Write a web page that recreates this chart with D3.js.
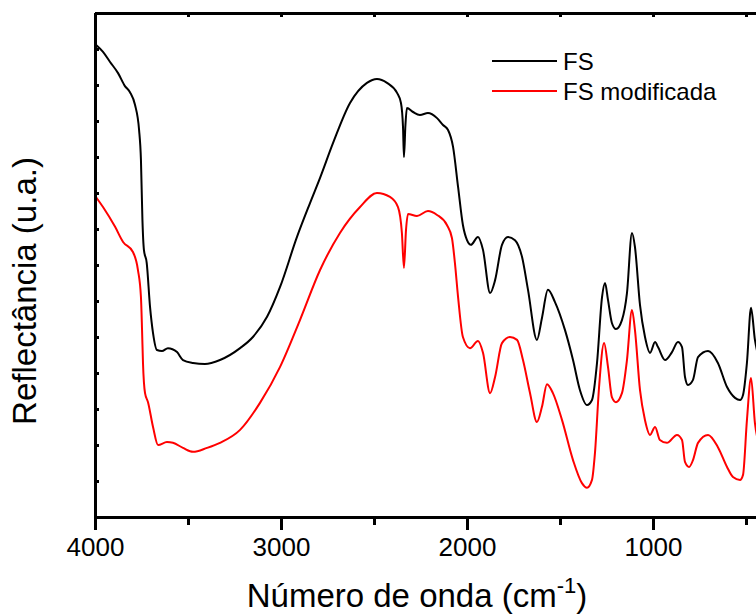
<!DOCTYPE html>
<html>
<head>
<meta charset="utf-8">
<script src="https://cdn.jsdelivr.net/npm/d3@7"></script>
<style>
  body { margin: 0; background: #fff; }
  svg { display: block; font-family: "Liberation Sans", Arial, sans-serif; }
</style>
</head>
<body>
<div id="chart"></div>
<script>
// values (wavenumber in cm-1, reflectance in arbitrary units)
var fsWavenumber = [4000, 3957, 3919, 3876, 3839, 3812, 3785, 3763, 3753, 3745, 3737, 3722, 3704, 3688, 3667, 3640, 3608, 3559, 3527, 3473, 3409, 3328, 3220, 3151, 3075, 3005, 2914, 2844, 2790, 2720, 2629, 2538, 2484, 2430, 2376, 2355, 2344, 2339, 2331, 2323, 2290, 2253, 2210, 2161, 2129, 2102, 2075, 2048, 2022, 2000, 1979, 1941, 1914, 1876, 1849, 1812, 1780, 1742, 1704, 1672, 1624, 1597, 1565, 1527, 1473, 1430, 1393, 1355, 1328, 1301, 1274, 1258, 1242, 1221, 1199, 1167, 1140, 1113, 1097, 1070, 1043, 1016, 989, 973, 935, 898, 866, 844, 828, 812, 785, 758, 704, 651, 602, 559, 532, 516, 495, 473, 452, 430];
var fsValues     = [13.14, 12.92, 12.64, 12.33, 11.97, 11.80, 11.45, 10.75, 9.92, 8.25, 7.42, 7.06, 5.83, 5.11, 4.64, 4.61, 4.69, 4.58, 4.36, 4.28, 4.25, 4.36, 4.69, 5.00, 5.56, 6.39, 7.78, 8.72, 9.42, 10.39, 11.50, 12.06, 12.17, 12.06, 11.78, 11.50, 10.83, 10.00, 10.89, 11.36, 11.25, 11.17, 11.22, 11.08, 10.89, 10.75, 10.28, 9.17, 8.11, 7.69, 7.56, 7.78, 7.42, 6.22, 6.58, 7.56, 7.78, 7.69, 7.22, 6.31, 4.92, 5.53, 6.31, 5.97, 5.19, 4.36, 3.53, 3.11, 3.25, 4.28, 6.11, 6.50, 6.03, 5.39, 5.22, 5.47, 6.22, 7.89, 7.50, 5.89, 5.00, 4.56, 4.86, 4.72, 4.36, 4.58, 4.86, 4.72, 3.89, 3.67, 3.81, 4.44, 4.61, 4.28, 3.61, 3.31, 3.25, 3.39, 4.28, 5.81, 4.92, 4.40];

var fsModWavenumber = [3995, 3957, 3892, 3849, 3796, 3769, 3753, 3747, 3742, 3731, 3715, 3688, 3661, 3613, 3581, 3527, 3473, 3398, 3328, 3220, 3113, 3005, 2898, 2790, 2683, 2575, 2484, 2414, 2371, 2350, 2339, 2328, 2317, 2269, 2210, 2161, 2108, 2081, 2065, 2048, 2022, 1984, 1941, 1914, 1876, 1849, 1812, 1769, 1731, 1699, 1661, 1624, 1597, 1570, 1538, 1489, 1430, 1382, 1355, 1328, 1312, 1290, 1263, 1242, 1221, 1199, 1167, 1140, 1113, 1097, 1070, 1043, 1016, 989, 963, 925, 871, 844, 828, 806, 785, 758, 704, 651, 602, 570, 532, 516, 495, 473, 452, 430];
var fsModValues     = [8.89, 8.61, 8.06, 7.64, 7.36, 6.86, 6.11, 5.19, 4.28, 3.44, 3.19, 2.50, 2.00, 2.08, 2.06, 1.92, 1.81, 1.92, 2.06, 2.42, 3.17, 4.17, 5.47, 6.86, 7.89, 8.61, 9.00, 8.89, 8.61, 7.89, 6.92, 7.97, 8.42, 8.36, 8.50, 8.39, 8.11, 7.75, 7.06, 6.11, 5.00, 4.69, 4.89, 4.56, 3.44, 3.89, 4.83, 5.00, 4.92, 4.36, 3.44, 2.64, 3.06, 3.69, 3.44, 2.69, 1.58, 0.94, 0.81, 1.03, 1.78, 3.61, 4.83, 4.17, 3.33, 3.19, 3.44, 4.36, 5.75, 5.19, 3.53, 2.69, 2.28, 2.50, 2.14, 2.06, 2.28, 2.14, 1.53, 1.39, 1.58, 2.06, 2.28, 1.94, 1.39, 1.11, 1.03, 1.17, 2.69, 3.86, 2.61, 2.00];

var xMajorTicks = [4000, 3000, 2000, 1000];
var xMinorTicks = [3500, 2500, 1500, 500];
var legendNames = ["FS", "FS modificada"];
var seriesColors = ["#000000", "#ff0000"];

var width = 756, height = 616;
var margin = {top: 13, left: 95, bottom: 99};
var fontFamily = "'Liberation Sans', Arial, sans-serif";

var x = d3.scaleLinear()
  .domain([4000, 400])
  .range([margin.left, margin.left + 3600 * 0.186]);

var y = d3.scaleLinear()
  .domain([0, 14])
  .range([height - margin.bottom, margin.top]);

var svg = d3.select("#chart").append("svg")
  .attr("width", width)
  .attr("height", height);

svg.append("defs").append("clipPath").attr("id", "plotclip")
  .append("rect")
  .attr("x", x(4000)).attr("y", y(14))
  .attr("width", x(400) - x(4000)).attr("height", y(0) - y(14));

// spectra
var series = [
  d3.zip(fsWavenumber, fsValues),
  d3.zip(fsModWavenumber, fsModValues)
];

var line = d3.line()
  .x(function(d) { return x(d[0]); })
  .y(function(d) { return y(d[1]); })
  .curve(d3.curveMonotoneX);

var g = svg.append("g").attr("clip-path", "url(#plotclip)");
g.selectAll("path.spectrum")
  .data(series)
  .enter().append("path")
    .attr("class", "spectrum")
    .attr("d", line)
    .attr("fill", "none")
    .attr("stroke", function(d, i) { return seriesColors[i]; })
    .attr("stroke-width", 2)
    .attr("stroke-linejoin", "round");

// bottom axis, major ticks with labels
var bottomAxis = svg.append("g")
  .attr("transform", "translate(0," + y(0) + ")")
  .call(d3.axisBottom(x).tickValues(xMajorTicks).tickFormat(d3.format("d"))
    .tickSize(13).tickPadding(8).tickSizeOuter(0));
bottomAxis.attr("font-size", 26).attr("font-family", fontFamily);
bottomAxis.select(".domain").attr("stroke-width", 3);
bottomAxis.selectAll(".tick line").attr("stroke-width", 3);
bottomAxis.selectAll(".tick text").attr("fill", "#000");

// bottom minor ticks
var bottomMinor = svg.append("g")
  .attr("transform", "translate(0," + y(0) + ")")
  .call(d3.axisBottom(x).tickValues(xMinorTicks).tickSize(8).tickFormat("").tickSizeOuter(0));
bottomMinor.select(".domain").remove();
bottomMinor.selectAll(".tick line").attr("stroke-width", 3);

// top frame with small inward ticks
var topAxis = svg.append("g")
  .attr("transform", "translate(0," + y(14) + ")")
  .call(d3.axisBottom(x).tickValues(xMajorTicks.concat(xMinorTicks)).tickSize(4).tickFormat("").tickSizeOuter(0));
topAxis.select(".domain").attr("stroke-width", 3);
topAxis.selectAll(".tick line").attr("stroke-width", 3);

// left axis: ticks only, no labels
var leftAxis = svg.append("g")
  .attr("transform", "translate(" + x(4000) + ",0)")
  .call(d3.axisRight(y).ticks(14).tickSize(4).tickFormat("").tickSizeOuter(0));
leftAxis.select(".domain").attr("stroke-width", 3);
leftAxis.selectAll(".tick line").attr("stroke-width", 3);

// right frame (mostly outside the window)
svg.append("line")
  .attr("x1", x(400)).attr("x2", x(400))
  .attr("y1", y(0)).attr("y2", y(14))
  .attr("stroke", "#000").attr("stroke-width", 3);

// axis titles
var xTitle = svg.append("text")
  .attr("x", 417)
  .attr("y", 607)
  .attr("text-anchor", "middle")
  .attr("font-family", fontFamily)
  .attr("font-size", "33px")
  .attr("fill", "#000");
xTitle.append("tspan").text("Número de onda (cm");
xTitle.append("tspan").attr("font-size", "22px").attr("dy", "-14").text("-1");
xTitle.append("tspan").attr("dy", "14").text(")");

svg.append("text")
  .attr("transform", "translate(36,291) rotate(-90)")
  .attr("text-anchor", "middle")
  .attr("font-family", fontFamily)
  .attr("font-size", "33px")
  .attr("fill", "#000")
  .text("Reflectância (u.a.)");

// legend
var legend = svg.append("g");
legendNames.forEach(function(name, i) {
  var ly = 61 + i * 30;
  legend.append("line")
    .attr("x1", 492).attr("x2", 557)
    .attr("y1", ly).attr("y2", ly)
    .attr("stroke", seriesColors[i])
    .attr("stroke-width", 2);
  legend.append("text")
    .attr("x", 563)
    .attr("y", ly + 8.5)
    .attr("font-family", fontFamily)
    .attr("font-size", "24px")
    .attr("fill", "#000")
    .text(name);
});
</script>
</body>
</html>
